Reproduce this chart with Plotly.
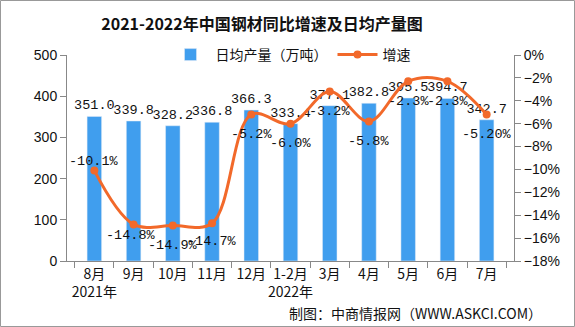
import plotly.graph_objects as go

categories = ["8月<br>2021年", "9月", "10月", "11月", "12月", "1-2月<br>2022年", "3月", "4月", "5月", "6月", "7月"]
output = [351.0, 339.8, 328.2, 336.8, 366.3, 333.4, 377.1, 382.8, 395.5, 394.7, 342.7]
growth = [-10.1, -14.8, -14.9, -14.7, -5.2, -6.0, -3.2, -5.8, -2.3, -2.3, -5.2]
growth_labels = ["-10.1%", "-14.8%", "-14.9%", "-14.7%", "-5.2%", "-6.0%", "-3.2%", "-5.8%", "-2.3%", "-2.3%", "-5.20%"]
output_labels = ["%.1f" % v for v in output]

W, H = 575, 327
L, R, T, B = 67, 61, 55, 66
pw, ph = W - L - R, H - T - B

label_font = dict(family="Liberation Mono", size=13.5, color="#111")

fig = go.Figure()
fig.add_trace(go.Bar(
    x=categories, y=output, name="日均产量（万吨）",
    marker_color="#409EEE", width=0.37,
    text=output_labels, textposition="outside", cliponaxis=False, constraintext="none",
    textfont=label_font,
))
fig.add_trace(go.Scatter(
    x=categories, y=growth, name="增速", yaxis="y2",
    mode="lines+markers", line=dict(color="#F2692A", width=3, shape="spline", smoothing=1),
    marker=dict(color="#F2692A", size=8),
    cliponaxis=False,
))

yshifts = [9, -11, -20, -18, -20, -20, -20, -20, -20, -20, -20]
xshifts = [0, -3, 0, 0, 0, 0, 0, 0, 0, 0, 0]
annotations = []
for c, g, t, ys, xs in zip(categories, growth, growth_labels, yshifts, xshifts):
    annotations.append(dict(x=c, y=g, xref="x", yref="y2", text=t, showarrow=False,
                            yshift=ys, xshift=xs, font=label_font))
annotations.append(dict(text="制图：中商情报网（WWW.ASKCI.COM）", xref="paper", yref="paper",
                        x=(287 - L) / pw, xanchor="left", y=-(313 - T - ph) / ph, yanchor="middle",
                        showarrow=False, font=dict(size=14, family="Noto Sans CJK SC")))

fig.update_layout(
    width=W, height=H,
    margin=dict(l=L, r=R, t=T, b=B),
    plot_bgcolor="white", paper_bgcolor="white",
    font=dict(family="Noto Sans CJK SC", size=13, color="#111"),
    title=dict(text="<b>2021-2022年中国钢材同比增速及日均产量图</b>", xref="paper",
               x=(262 - L) / pw, xanchor="center",
               y=1 - 24 / H, yanchor="middle", font=dict(size=16, family="Noto Sans CJK SC")),
    legend=dict(orientation="h", x=0.5, xanchor="center", y=1.0, yanchor="middle",
                font=dict(size=14), bgcolor="rgba(0,0,0,0)", itemwidth=40),
    showlegend=True,
    xaxis=dict(showline=True, linecolor="#888", ticks="outside", tickson="boundaries",
               tickcolor="#888", ticklen=6, tickangle=0,
               tickfont=dict(size=14, family="Noto Sans CJK SC"), showgrid=False),
    yaxis=dict(range=[0, 500], dtick=100, showline=True, linecolor="#888", ticks="outside",
               tickcolor="#888", ticklen=6, showgrid=False, zeroline=False,
               tickfont=dict(size=14, family="Liberation Sans")),
    yaxis2=dict(range=[-18, 0], dtick=2, overlaying="y", side="right", showline=True,
                linecolor="#888", ticks="outside", tickcolor="#888", ticklen=6,
                showgrid=False, zeroline=False, ticksuffix="%",
                tickfont=dict(size=14, family="Liberation Sans")),
    shapes=[dict(type="rect", xref="paper", yref="paper",
                 x0=(0.5 - L) / pw, x1=(W - 0.5 - L) / pw,
                 y0=-(B - 0.5) / ph, y1=(T - 0.5) / ph + 1,
                 line=dict(color="#999", width=1))],
    annotations=annotations,
)

fig.write_html("out.html")
